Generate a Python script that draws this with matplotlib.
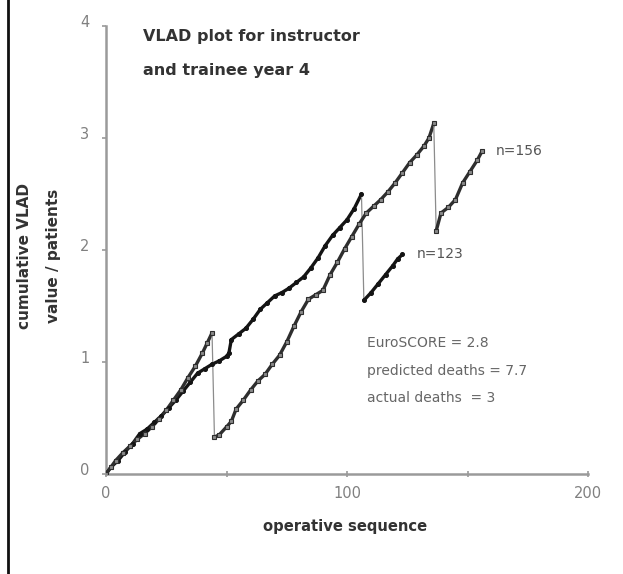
import matplotlib
matplotlib.use("Agg")
import matplotlib.pyplot as plt
import numpy as np
from matplotlib.collections import LineCollection
from matplotlib.lines import Line2D
import matplotlib.transforms as mtransforms

# ---- data ----
seq_a = [0, 2, 5, 8, 11, 14, 17, 20, 23, 26, 29, 32, 35, 38, 41, 44, 47, 50, 51, 52, 55, 58,
         61, 64, 67, 70, 73, 76, 79, 82, 85, 88, 91, 94, 97, 100, 103, 106, 107, 110, 113,
         116, 119, 121, 123]
vlad_a = [0.0, 0.06, 0.12, 0.20, 0.27, 0.36, 0.40, 0.46, 0.52, 0.59, 0.66, 0.74, 0.82, 0.90,
          0.94, 0.98, 1.01, 1.05, 1.08, 1.20, 1.25, 1.30, 1.38, 1.47, 1.53, 1.59, 1.62, 1.66,
          1.71, 1.76, 1.84, 1.93, 2.04, 2.13, 2.20, 2.27, 2.37, 2.50, 1.55, 1.62, 1.70, 1.78,
          1.86, 1.92, 1.96]

seq_b = [0, 2, 4, 7, 10, 13, 16, 19, 22, 25, 28, 31, 34, 37, 40, 42, 44, 45, 47, 50, 52, 54,
         57, 60, 63, 66, 69, 72, 75, 78, 81, 84, 87, 90, 93, 96, 99, 102, 105, 108, 111, 114,
         117, 120, 123, 126, 129, 132, 134, 136, 137, 139, 142, 145, 148, 151, 154, 156]
vlad_b = [0.0, 0.06, 0.12, 0.19, 0.25, 0.31, 0.36, 0.42, 0.49, 0.57, 0.66, 0.75, 0.86, 0.96,
          1.08, 1.17, 1.26, 0.33, 0.35, 0.42, 0.47, 0.58, 0.66, 0.75, 0.83, 0.89, 0.98, 1.06,
          1.18, 1.32, 1.45, 1.56, 1.60, 1.64, 1.78, 1.89, 2.01, 2.12, 2.23, 2.33, 2.39, 2.45,
          2.52, 2.60, 2.69, 2.78, 2.85, 2.93, 3.00, 3.13, 2.17, 2.33, 2.38, 2.45, 2.60, 2.70,
          2.80, 2.88]

end_labels = ["n=123", "n=156"]
xticks = [0, 100, 200]
xminor = [50, 150]
yticks = [0, 1, 2, 3, 4]
title_lines = ["VLAD plot for instructor", "and trainee year 4"]
stats_lines = ["EuroSCORE = 2.8", "predicted deaths = 7.7", "actual deaths  = 3"]

W, H = 623, 574
fig = plt.figure(figsize=(W / 100, H / 100), dpi=100)
fig.patch.set_facecolor("white")
ax = fig.add_axes([106 / W, 100 / H, 482 / W, 448 / H])
ax.set_xlim(0, 200)
ax.set_ylim(0, 4)


def draw_series(xs, ys, color, marker, mfc):
    pts = np.column_stack([xs, ys])
    segs = np.stack([pts[:-1], pts[1:]], axis=1)
    dy = np.diff(ys)
    widths = np.where(dy < -0.3, 0.9, 2.4)
    cols = [("#8c8c8c" if d < -0.3 else color) for d in dy]
    lc = LineCollection(segs, linewidths=widths, colors=cols, capstyle="round",
                        joinstyle="round", zorder=3)
    ax.add_collection(lc)
    ax.plot(xs, ys, linestyle="none", marker=marker, ms=2.8, mfc=mfc, mec=color,
            mew=0.8, zorder=4)


draw_series(seq_a, vlad_a, "#141414", "o", "#141414")
draw_series(seq_b, vlad_b, "#2e2e2e", "s", "#8a8a8a")

# end labels
ax.annotate(end_labels[0], (seq_a[-1], vlad_a[-1]), xytext=(10, 0),
            textcoords="offset points", va="center", ha="left", fontsize=10, color="#555555")
ax.annotate(end_labels[1], (seq_b[-1], vlad_b[-1]), xytext=(10, 0),
            textcoords="offset points", va="center", ha="left", fontsize=10, color="#555555")

# spines and ticks
for s in ["top", "right"]:
    ax.spines[s].set_visible(False)
for s in ["left", "bottom"]:
    ax.spines[s].set_color("#9a9a9a")
    ax.spines[s].set_linewidth(1.8)
ax.set_xticks(xticks)
ax.set_xticks(xminor, minor=True)
ax.set_yticks(yticks)
ax.tick_params(axis="x", which="both", direction="inout", length=4, width=1.2,
               color="#9a9a9a", labelsize=10.5, labelcolor="#808080", pad=7)
ax.tick_params(axis="y", which="both", direction="out", length=3, width=1.2,
               color="#9a9a9a", labelsize=10.5, labelcolor="#808080", pad=9)
off = mtransforms.ScaledTranslation(0, 5 / 100, fig.dpi_scale_trans)
for lab in ax.get_yticklabels():
    lab.set_transform(lab.get_transform() + off)

# axis labels
fig.text(345 / W, 1 - 527 / H, "operative sequence", ha="center", va="center",
         fontsize=10.6, fontweight="bold", color="#333333")
fig.text(25 / W, 1 - 256 / H, "cumulative VLAD", ha="center", va="center",
         rotation=90, fontsize=11, fontweight="bold", color="#333333")
fig.text(54 / W, 1 - 256 / H, "value / patients", ha="center", va="center",
         rotation=90, fontsize=11, fontweight="bold", color="#333333")

# title lines
fig.text(143 / W, 1 - 36 / H, title_lines[0], ha="left", va="center",
         fontsize=11.5, fontweight="bold", color="#333333")
fig.text(143 / W, 1 - 70 / H, title_lines[1], ha="left", va="center",
         fontsize=11.5, fontweight="bold", color="#333333")

# stats text
for i, t in enumerate(stats_lines):
    fig.text(367 / W, 1 - (343 + 27.5 * i) / H, t, ha="left", va="center",
             fontsize=10, color="#666666")

# left border line
fig.add_artist(Line2D([7.5 / W, 7.5 / W], [0, 1], transform=fig.transFigure,
                      color="#111111", linewidth=2))

fig.savefig("out.png", dpi=100, facecolor="white")
